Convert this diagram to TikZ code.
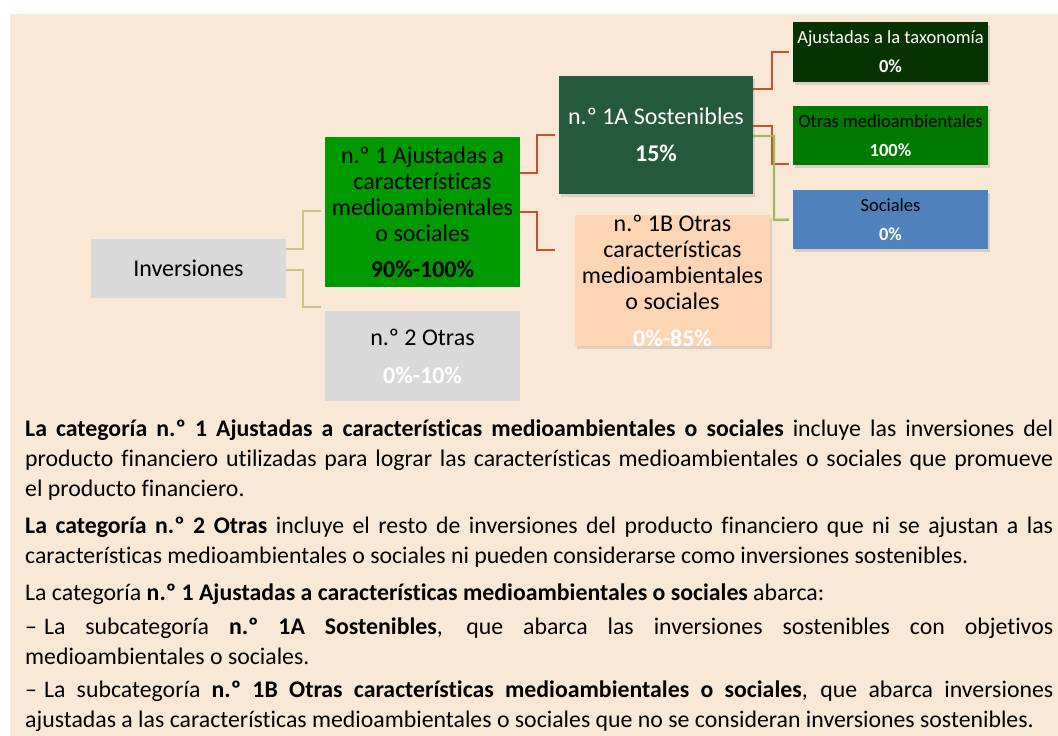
\documentclass[tikz,border=0pt]{standalone}
\usepackage{fontspec}
\setmainfont{Carlito}[Ligatures=NoCommon]
\usetikzlibrary{shadows}
\definecolor{bg}{HTML}{FAE8D7}
\definecolor{greybox}{HTML}{D9D9D9}
\definecolor{green1}{HTML}{009900}
\definecolor{green1a}{HTML}{265A3C}
\definecolor{peach1b}{HTML}{FCD5B4}
\definecolor{taxgreen}{HTML}{073300}
\definecolor{envgreen}{HTML}{007A00}
\definecolor{socblue}{HTML}{4F81BD}
\definecolor{tanline}{HTML}{CDC282}
\definecolor{redline}{HTML}{C45332}
\definecolor{greenline}{HTML}{9BBB59}
\begin{document}
\begin{tikzpicture}[x=1pt,y=-1pt,
    box/.style={rectangle, inner sep=0pt, align=center, minimum width=195pt,
      font=\fontsize{24}{26}\selectfont},
    tag/.style={box, minimum height=59pt, font=\fontsize{18.5}{22}\selectfont},
    shadowed/.style={drop shadow={opacity=0.25, shadow xshift=2pt, shadow yshift=-3pt}},
    link/.style={line width=2.4pt, shorten >=4pt},
    para/.style={anchor=base west, inner sep=0pt, text width=1028pt, align=justify,
      font=\fontsize{23.8}{30}\selectfont,
      execute at begin node={\hyphenpenalty=10000\relax\tolerance=10000\relax}}]
  \fill[white] (0,0) rectangle (1058,736);
  \fill[bg] (10,14) rectangle (1058,736);

  % diagram
  \node[box, fill=greybox, minimum height=59pt] (inv) at (188.5,268.5) {Inversiones};
  \node[box, fill=green1, minimum height=150pt] (n1) at (422.5,212)
    {n.º 1 Ajustadas a\\características\\medioambientales\\o sociales\\[10pt]\textbf{90\%-100\%}};
  \node[box, fill=greybox, minimum height=90pt] (n2) at (422.5,356)
    {n.º 2 Otras\\[12pt]\textcolor{white}{\textbf{0\%-10\%}}};
  \node[box, shadowed, fill=green1a, text=white, minimum width=194pt, minimum height=118pt] (a1) at (656,135)
    {n.º 1A Sostenibles\\[11pt]\textbf{15\%}};
  \node[box, shadowed, fill=peach1b, minimum height=129pt] (b1) at (672.5,280.5)
    {n.º 1B Otras\\características\\medioambientales\\o sociales\\[11pt]\textcolor{white}{\textbf{0\%-85\%}}};
  \node[tag, shadowed, fill=taxgreen, text=white, minimum height=60pt] (tax) at (890.5,52)
    {Ajustadas a la taxonomía\\[7pt]\textbf{0\%}};
  \node[tag, shadowed, fill=envgreen] (env) at (890.5,135.5)
    {Otras medioambientales\\[7pt]\textcolor{white}{\textbf{100\%}}};
  \node[tag, shadowed, fill=socblue] (soc) at (890.5,219.5)
    {Sociales\\[7pt]\textcolor{white}{\textbf{0\%}}};

  \begin{scope}[link]
    \draw[tanline] (inv.east |- 0,249) -| (303,211) -- (n1.west |- 0,211);
    \draw[tanline] (inv.east |- 0,270) -| (303,307) -- (n2.west |- 0,307);
    \draw[redline] (n1.east |- 0,173) -| (537,135) -- (a1.west);
    \draw[redline, shorten >=20pt] (n1.east |- 0,212) -| (537,250) -- (b1.west |- 0,250);
    \draw[redline] (a1.east |- 0,89) -| (772,52) -- (tax.west);
    \draw[redline] (a1.east |- 0,126) -| (772,164) -- (env.west |- 0,164);
    \draw[greenline] (a1.east |- 0,136) -| (774,220) -- (soc.west);
  \end{scope}

  % text below
  \node[para] (p1) at (25,436) {\textbf{La categoría n.º 1 Ajustadas a características medioambientales o sociales} incluye las inversiones del\linebreak producto financiero utilizadas para lograr las características medioambientales o sociales que promueve\linebreak el producto financiero.};
  \node[para] (p2) at (25,533) {\textbf{La categoría n.º 2 Otras} incluye el resto de inversiones del producto financiero que ni se ajustan a las\linebreak características medioambientales o sociales ni pueden considerarse como inversiones sostenibles.};
  \node[para] (p3) at (25,600) {La categoría \textbf{n.º 1 Ajustadas a características medioambientales o sociales} abarca:};
  \node[para] (p4) at (25,634) {–\kern7pt La subcategoría \textbf{n.º 1A Sostenibles}, que abarca las inversiones sostenibles con objetivos\linebreak medioambientales o sociales.};
  \node[para] (p5) at (25,697) {–\kern7pt La subcategoría \textbf{n.º 1B Otras características medioambientales o sociales}, que abarca inversiones\linebreak ajustadas a las características medioambientales o sociales que no se consideran inversiones sostenibles.};
\end{tikzpicture}
\end{document}
